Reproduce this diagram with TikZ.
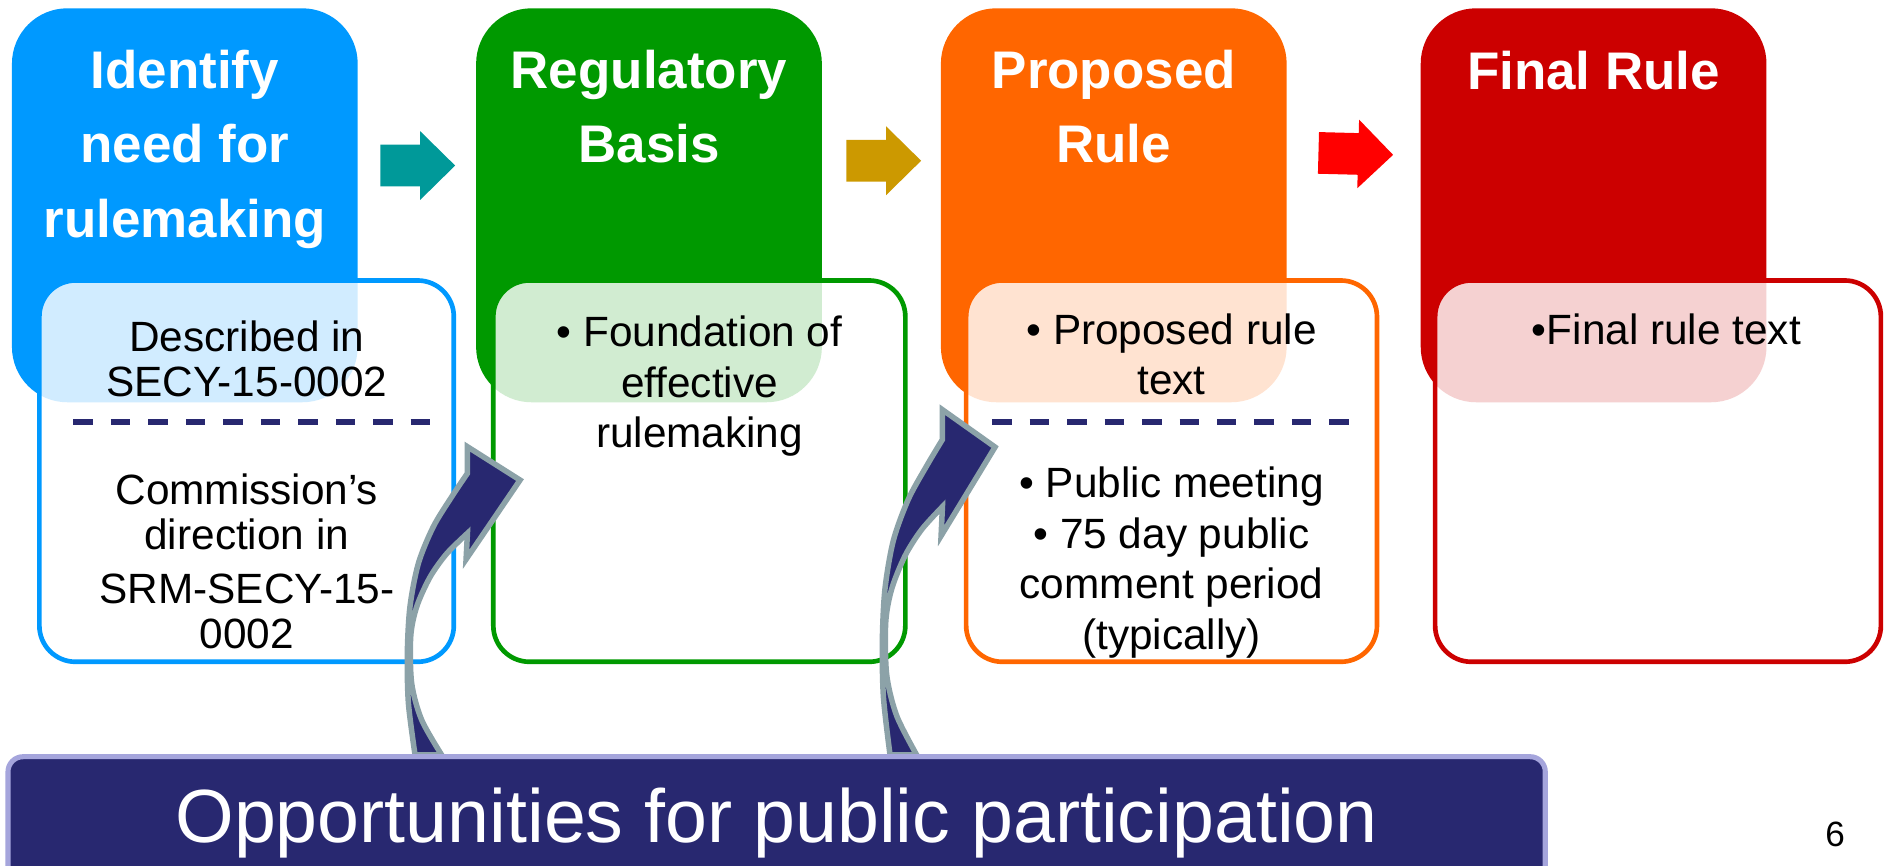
\documentclass[tikz,border=0pt]{standalone}
\usepackage{fontspec}
\setmainfont{Liberation Sans}
\usepackage{tikz}
\usetikzlibrary{positioning,calc}

\definecolor{identblue}{RGB}{0,153,255}
\definecolor{basisgreen}{RGB}{0,153,0}
\definecolor{proporange}{RGB}{255,102,0}
\definecolor{finalred}{RGB}{204,0,0}
\definecolor{arrowteal}{RGB}{0,153,153}
\definecolor{arrowgold}{RGB}{204,153,0}
\definecolor{arrowred}{RGB}{255,0,0}
\definecolor{barnavy}{RGB}{40,40,112}
\definecolor{barline}{RGB}{165,165,220}
\definecolor{curvegray}{RGB}{140,162,168}

\tikzset{
  header/.style={
    rectangle,
    rounded corners=4.6mm,
    minimum width=2.87cm,
    minimum height=3.27cm,
    inner sep=0pt},
  headtitle/.style={
    text=white,
    font=\fontsize{12.5}{17.6}\selectfont\bfseries,
    align=center,
    anchor=base,
    inner sep=0pt},
  detail/.style={
    rectangle,
    rounded corners=3mm,
    line width=1.1pt,
    fill=white, fill opacity=0.82,
    minimum height=3.165cm,
    inner sep=0pt},
  detailtext/.style={
    font=\fontsize{10}{12}\selectfont,
    align=center,
    anchor=base,
    inner sep=0pt},
  divider/.style={draw=barnavy, line width=1.4pt, dash pattern=on 4.6pt off 4.25pt},
  bar/.style={
    rectangle,
    rounded corners=1.25mm,
    fill=barnavy, draw=barline, line width=1.2pt,
    text=white,
    font=\fontsize{17.8}{20}\selectfont,
    minimum width=12.76cm,
    text height=7.15mm, text depth=5mm,
    inner ysep=0pt},
  pics/blockarrow/.style={
    code={
      \fill[#1] (0,-17.3) -- (33,-17.3) -- (33,-28.5) -- (62,0)
             -- (33,28.5) -- (33,17.3) -- (0,17.3) -- cycle;
    }
  },
  pics/uparrow/.style={
    code={
      \filldraw[fill=barnavy, draw=curvegray, line width=1.3pt]
        plot[smooth] coordinates {(0,0) (-5.5,-42.9) (-6.4,-84.4) (-4.2,-123.2)
          (2.8,-159.2) (15.2,-189.6) (30.5,-214.5) (43.5,-233.9)}
        -- (43.5,-256) -- (87.2,-228.3) -- (42.4,-162.5) -- (43.5,-184.1)
        -- plot[smooth] coordinates {(43.5,-184.1) (26.3,-167.2) (12.5,-147.8)
          (1.4,-123.2) (-3.6,-98.3) (-2.8,-59.5) (5.5,-29.1) (22.1,0)}
        -- cycle;
    }
  }
}

\begin{document}
\begin{tikzpicture}[x=0.01cm, y=-0.01cm]
    \useasboundingbox (0,0) rectangle (1568,719);
    \clip (0,0) rectangle (1568,719);

    % steps
    \node[header, fill=identblue]  (identify) at (153.5,170.5) {};
    \node[header, fill=basisgreen] (basis)    at (539,170.5) {};
    \node[header, fill=proporange] (proposed) at (925,170.5) {};
    \node[header, fill=finalred]   (final)    at (1323.5,170.5) {};

    % base anchor sits on the last line
    \node[headtitle] (identifytitle) at (153.5,197) {Identify\\need for\\rulemaking};
    \node[headtitle] (basistitle)    at (539,135) {Regulatory\\Basis};
    \node[headtitle] (proposedtitle) at (925,135) {Proposed\\Rule};
    \node[headtitle] (finaltitle)    at (1323.5,74) {Final Rule};

    \node[detail, draw=identblue,  minimum width=3.44cm] (identifybox) at (204.8,391.3) {};
    \node[detail, draw=basisgreen, minimum width=3.42cm] (basisbox)    at (580.8,391.3) {};
    \node[detail, draw=proporange, minimum width=3.41cm] (proposedbox) at (973,391.3) {};
    \node[detail, draw=finalred,   minimum width=3.70cm] (finalbox)    at (1377,391.3) {};

    \node[detailtext, font=\fontsize{10}{10.65}\selectfont] (described) at (205,329.5)
        {Described in\\SECY-15-0002};
    \node[detailtext, font=\fontsize{10}{10.65}\selectfont] (direction) at (205,538.5)
        {Commission’s\\direction in\\[2pt]SRM-SECY-15-\\0002};
    \node[detailtext] (foundation) at (581,372) {• Foundation of\\effective\\rulemaking};
    \node[detailtext] (proposedtext) at (973,328) {• Proposed rule\\text};
    \node[detailtext] (meeting) at (973,539.6)
        {• Public meeting\\• 75 day public\\comment period\\(typically)};
    \node[detailtext] (finaltext) at (1384,286) {•Final rule text};

    \draw[divider] (61,350.5) -- (357,350.5);
    \draw[divider] (824,350.5) -- (1121,350.5);

    \pic at (316,137.5) {blockarrow=arrowteal};
    \pic at (703,133.5) {blockarrow=arrowgold};
    \pic[rotate=-1.5] at (1095,127) {blockarrow=arrowred};

    \pic at (344.7,627) {uparrow};
    \pic[yscale=1.12] at (739.2,627) {uparrow};

    \node[bar, anchor=base] (opportunities) at (645,700) {Opportunities for public participation};
    \node[font=\fontsize{8.3}{10}\selectfont, anchor=base] (pagenum) at (1524,703) {6};
\end{tikzpicture}
\end{document}
